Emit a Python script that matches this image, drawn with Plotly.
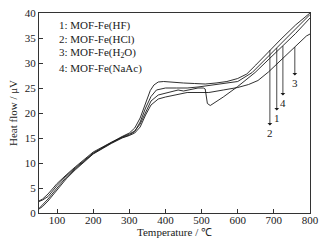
import numpy as np
import plotly.graph_objects as go

# ---- data ----
x_hf = [50, 60, 75, 100, 125, 150, 200, 250, 280, 300, 315, 330, 345, 360, 375, 400, 430, 460, 490, 520, 550, 600, 640, 670, 708, 750, 800]
y_hf = [2.3, 2.6, 3.3, 5.5, 7.4, 9.0, 12.0, 14.1, 15.1, 15.6, 16.3, 18.2, 21.0, 23.3, 24.6, 25.0, 25.0, 25.0, 25.2, 25.5, 25.8, 26.3, 28.1, 30.3, 33.0, 36.1, 39.7]

x_hcl = [50, 60, 75, 100, 125, 150, 200, 250, 280, 300, 315, 330, 345, 358, 368, 380, 395, 420, 450, 480, 510, 540, 570, 600, 625, 650, 670, 689, 720, 760, 800]
y_hcl = [2.4, 2.8, 3.8, 5.9, 7.6, 9.2, 12.2, 14.2, 15.3, 16.0, 17.0, 19.0, 22.0, 24.5, 25.6, 26.2, 26.3, 26.1, 26.0, 25.9, 25.8, 26.0, 26.3, 26.9, 27.8, 29.6, 31.1, 32.6, 34.8, 37.6, 40.0]

x_h2o = [50, 60, 75, 100, 125, 150, 200, 250, 280, 300, 315, 330, 345, 360, 380, 400, 430, 460, 490, 520, 560, 600, 630, 656, 685, 720, 758, 790, 800]
y_h2o = [0.8, 1.3, 2.4, 4.6, 6.8, 8.6, 11.8, 13.9, 15.0, 15.5, 16.0, 17.2, 19.6, 21.6, 22.8, 23.2, 23.6, 24.1, 24.1, 24.1, 24.6, 25.1, 25.7, 26.5, 28.2, 30.6, 33.2, 35.4, 35.8]

x_naac = [50, 60, 75, 100, 125, 150, 200, 250, 280, 300, 315, 330, 345, 360, 380, 400, 420, 435, 450, 470, 490, 505, 510, 516, 524, 560, 600, 648, 690, 725, 760, 800]
y_naac = [0.9, 1.6, 2.8, 5.0, 7.1, 8.8, 11.9, 14.0, 15.2, 15.8, 16.4, 17.8, 20.2, 22.4, 23.6, 24.0, 24.3, 24.6, 24.4, 24.7, 25.0, 25.0, 24.8, 21.9, 21.5, 23.2, 25.3, 28.1, 31.0, 33.4, 35.9, 39.0]

legend_lines = ["1: MOF-Fe(HF)", "2: MOF-Fe(HCl)", "3: MOF-Fe(H<sub>2</sub>O)", "4: MOF-Fe(NaAc)"]

# arrow markers: label, x position, label y (arrow runs from the curve down to the label)
arrow_labels = ["2", "1", "4", "3"]
arrow_x = [689, 708, 725, 758]
arrow_lab = [16.0, 19.0, 22.0, 26.0]

x_ticks = [100, 200, 300, 400, 500, 600, 700, 800]
y_ticks = [0, 5, 10, 15, 20, 25, 30, 35, 40]

FONT = "Liberation Serif, Times New Roman, serif"
INK = "#1a1a1a"

fig = go.Figure()
series = [(x_hf, y_hf), (x_hcl, y_hcl), (x_h2o, y_h2o), (x_naac, y_naac)]
for xs, ys in series:
    fig.add_trace(go.Scatter(x=xs, y=ys, mode="lines",
                             line=dict(color=INK, width=0.9),
                             showlegend=False, hoverinfo="skip"))

curve_of = {"1": (x_hf, y_hf), "2": (x_hcl, y_hcl), "3": (x_h2o, y_h2o), "4": (x_naac, y_naac)}
for lab, xa, ly in zip(arrow_labels, arrow_x, arrow_lab):
    cx, cy = curve_of[lab]
    start = float(np.interp(xa, cx, cy))
    fig.add_annotation(x=xa, y=start, ax=xa, ay=ly, xref="x", yref="y",
                       axref="x", ayref="y", text=lab, showarrow=True,
                       arrowside="start", arrowhead=2, arrowsize=1.0,
                       arrowwidth=0.8, arrowcolor=INK, startstandoff=0,
                       font=dict(family=FONT, size=11, color=INK))

leg_y = [37.6, 34.8, 32.0, 29.0]
for t, yy in zip(legend_lines, leg_y):
    fig.add_annotation(x=100, y=yy, text=t, showarrow=False, xanchor="left",
                       yanchor="middle",
                       font=dict(family=FONT, size=11, color=INK))

axis_common = dict(showgrid=False, zeroline=False, showline=True,
                   linecolor="#333333", linewidth=1, mirror=True,
                   ticks="inside", ticklen=4, tickwidth=1, tickcolor="#333333",
                   automargin=False,
                   tickfont=dict(family=FONT, size=11, color=INK))

fig.update_xaxes(range=[50, 800], tickvals=x_ticks, ticklabelstandoff=-3,
                 title=dict(text="Temperature / ℃", standoff=0,
                            font=dict(family=FONT, size=11, color=INK)),
                 **axis_common)
fig.update_yaxes(range=[0, 40], tickvals=y_ticks,
                 title=dict(text="Heat flow / μV", standoff=4,
                            font=dict(family=FONT, size=11, color=INK)),
                 **axis_common)

fig.update_layout(width=324, height=246,
                  margin=dict(l=39, r=14, t=13, b=33),
                  plot_bgcolor="white", paper_bgcolor="white")

fig.write_html("out.html", config={"displayModeBar": False},
               post_script="document.body.style.margin='0';document.body.style.overflow='hidden';")
